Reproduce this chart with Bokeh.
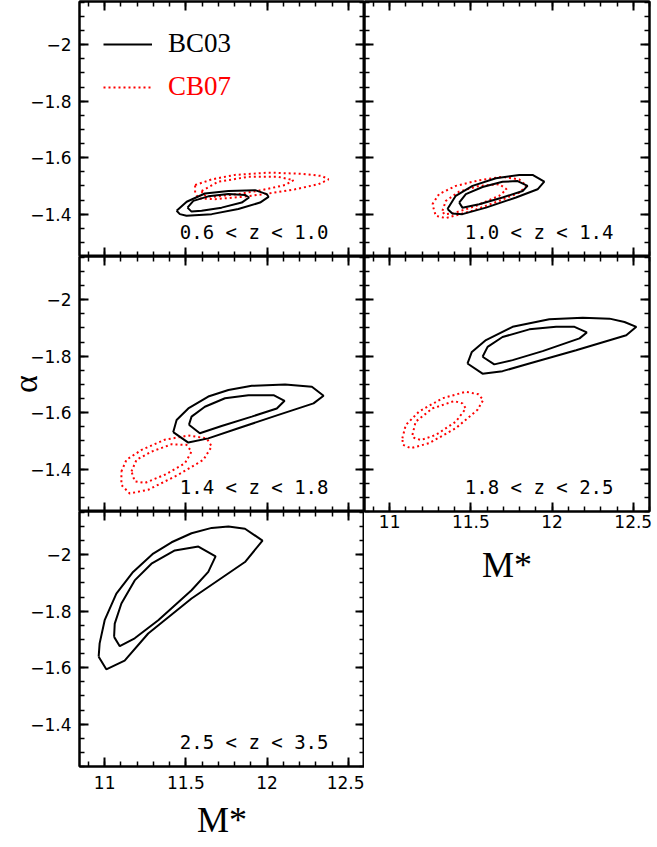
import numpy as np
from bokeh.plotting import figure
from bokeh.models import (Range1d, LinearAxis, FixedTicker, CustomJSTickFormatter,
                          Label, Legend, LegendItem)
from bokeh.layouts import column, row
from bokeh.embed import file_html
from bokeh.resources import INLINE
from bokeh.core.properties import value

# ---------------- data ----------------
z_labels = ["0.6 < z < 1.0", "1.0 < z < 1.4", "1.4 < z < 1.8", "1.8 < z < 2.5", "2.5 < z < 3.5"]
x_major = [11, 11.5, 12, 12.5]
y_major = [-2, -1.8, -1.6, -1.4]

# panel 1 : 0.6 < z < 1.0
bc_outer1_x = [11.443, 11.505, 11.617, 11.762, 11.926, 11.998, 12.009, 11.957, 11.823, 11.659, 11.504, 11.463]
bc_outer1_y = [-1.412, -1.444, -1.473, -1.482, -1.485, -1.471, -1.461, -1.441, -1.418, -1.400, -1.394, -1.400]
bc_inner1_x = [11.510, 11.546, 11.638, 11.762, 11.864, 11.889, 11.844, 11.720, 11.597, 11.535]
bc_inner1_y = [-1.423, -1.447, -1.463, -1.471, -1.468, -1.459, -1.441, -1.423, -1.412, -1.409]
cb_outer1_x = [11.557, 11.659, 11.802, 12.009, 12.214, 12.338, 12.379, 12.317, 12.173, 12.009, 11.844, 11.679, 11.577, 11.557]
cb_outer1_y = [-1.503, -1.523, -1.539, -1.547, -1.543, -1.535, -1.523, -1.506, -1.488, -1.473, -1.461, -1.453, -1.456, -1.476]
cb_inner1_x = [11.597, 11.700, 11.885, 12.070, 12.163, 12.111, 11.967, 11.823, 11.659, 11.607]
cb_inner1_y = [-1.482, -1.515, -1.532, -1.532, -1.520, -1.503, -1.485, -1.471, -1.461, -1.468]

# panel 2 : 1.0 < z < 1.4
bc_outer2_x = [11.356, 11.407, 11.510, 11.654, 11.798, 11.880, 11.952, 11.911, 11.778, 11.593, 11.448, 11.386]
bc_outer2_y = [-1.418, -1.465, -1.500, -1.527, -1.539, -1.539, -1.515, -1.488, -1.459, -1.423, -1.400, -1.402]
bc_inner2_x = [11.428, 11.469, 11.572, 11.695, 11.788, 11.849, 11.819, 11.695, 11.551, 11.448]
bc_inner2_y = [-1.441, -1.471, -1.496, -1.515, -1.517, -1.500, -1.482, -1.459, -1.435, -1.423]
cb_outer2_x = [11.263, 11.304, 11.407, 11.551, 11.695, 11.798, 11.843, 11.798, 11.675, 11.510, 11.346, 11.284]
cb_outer2_y = [-1.435, -1.471, -1.500, -1.520, -1.532, -1.523, -1.500, -1.476, -1.447, -1.412, -1.386, -1.394]
cb_inner2_x = [11.325, 11.346, 11.428, 11.551, 11.675, 11.720, 11.675, 11.531, 11.386, 11.335]
cb_inner2_y = [-1.412, -1.447, -1.480, -1.500, -1.506, -1.488, -1.465, -1.429, -1.402, -1.400]

# panel 3 : 1.4 < z < 1.8
bc_outer3_x = [11.422, 11.443, 11.515, 11.638, 11.762, 11.906, 12.111, 12.276, 12.348, 12.286, 12.070, 11.823, 11.638, 11.515]
bc_outer3_y = [-1.531, -1.574, -1.615, -1.657, -1.680, -1.695, -1.700, -1.692, -1.660, -1.633, -1.592, -1.545, -1.509, -1.494]
bc_inner3_x = [11.519, 11.535, 11.617, 11.741, 11.885, 12.040, 12.108, 12.060, 11.906, 11.720, 11.586]
bc_inner3_y = [-1.557, -1.586, -1.621, -1.651, -1.662, -1.662, -1.642, -1.615, -1.586, -1.553, -1.527]
cb_outer3_x = [11.103, 11.134, 11.227, 11.370, 11.515, 11.628, 11.659, 11.608, 11.453, 11.268, 11.154, 11.103]
cb_outer3_y = [-1.392, -1.433, -1.468, -1.504, -1.519, -1.509, -1.480, -1.433, -1.380, -1.327, -1.314, -1.344]
cb_inner3_x = [11.165, 11.196, 11.288, 11.412, 11.504, 11.535, 11.494, 11.370, 11.247, 11.185]
cb_inner3_y = [-1.392, -1.433, -1.462, -1.488, -1.486, -1.462, -1.421, -1.380, -1.351, -1.357]

# panel 4 : 1.8 < z < 2.5
bc_outer4_x = [11.479, 11.506, 11.593, 11.757, 11.983, 12.189, 12.354, 12.446, 12.519, 12.457, 12.148, 11.860, 11.695, 11.572]
bc_outer4_y = [-1.774, -1.815, -1.857, -1.904, -1.931, -1.936, -1.933, -1.921, -1.904, -1.874, -1.821, -1.774, -1.747, -1.738]
bc_inner4_x = [11.572, 11.603, 11.695, 11.860, 12.025, 12.138, 12.214, 12.169, 11.942, 11.757, 11.644]
bc_inner4_y = [-1.798, -1.833, -1.868, -1.895, -1.904, -1.904, -1.884, -1.863, -1.818, -1.786, -1.771]
cb_outer4_x = [11.078, 11.099, 11.181, 11.325, 11.469, 11.547, 11.576, 11.541, 11.407, 11.243, 11.130, 11.082]
cb_outer4_y = [-1.509, -1.556, -1.604, -1.651, -1.674, -1.665, -1.645, -1.610, -1.545, -1.492, -1.474, -1.486]
cb_inner4_x = [11.140, 11.160, 11.263, 11.397, 11.448, 11.469, 11.407, 11.284, 11.191, 11.150]
cb_inner4_y = [-1.521, -1.568, -1.615, -1.641, -1.633, -1.615, -1.568, -1.521, -1.503, -1.511]

# panel 5 : 2.5 < z < 3.5 (BC03 only)
bc_outer5_x = [10.963, 10.969, 11.000, 11.072, 11.175, 11.299, 11.412, 11.535, 11.659, 11.762, 11.864, 11.972, 11.864, 11.535, 11.268, 11.123, 11.010]
bc_outer5_y = [-1.639, -1.686, -1.768, -1.862, -1.939, -2.004, -2.044, -2.076, -2.095, -2.100, -2.092, -2.050, -1.974, -1.845, -1.721, -1.625, -1.594]
bc_inner5_x = [11.058, 11.062, 11.103, 11.185, 11.288, 11.432, 11.577, 11.683, 11.638, 11.535, 11.330, 11.185, 11.093]
bc_inner5_y = [-1.709, -1.756, -1.827, -1.909, -1.968, -2.015, -2.029, -1.994, -1.939, -1.874, -1.768, -1.704, -1.676]

# ---------------- styling / layout ----------------
X_START, X_END = 10.845, 12.6
Y_BOTTOM, Y_TOP = -1.25, -2.153
FW, FH = 285, 255
LEFT_BORDER = 79
x_minor = [round(v, 2) for v in np.arange(10.9, 12.61, 0.1)]
y_minor = [round(v, 3) for v in np.arange(-2.15, -1.249, 0.05)]

fmt = CustomJSTickFormatter(code="""
const s = Math.abs(tick).toFixed(1).replace(/\\.0$/, '');
return (tick < 0 ? '\\u2212' : '') + s;
""")


def add_axis(p, side, labels, axis_label=None, label_standoff=3, title_standoff=14,
             title_size="36px"):
    horiz = side in ("above", "below")
    ax = LinearAxis(ticker=FixedTicker(ticks=x_major if horiz else y_major,
                                       minor_ticks=x_minor if horiz else y_minor),
                    formatter=fmt)
    ax.major_tick_in = 9
    ax.major_tick_out = 0
    ax.minor_tick_in = 5
    ax.minor_tick_out = 0
    ax.major_tick_line_width = 2
    ax.minor_tick_line_width = 1.5
    ax.axis_line_width = 2
    if labels:
        ax.major_label_text_font = "DejaVu Sans"
        ax.major_label_text_font_size = "17px"
        ax.major_label_text_color = "black"
        ax.major_label_standoff = label_standoff if horiz else 8
    else:
        ax.major_label_text_color = None
        ax.major_label_standoff = 0
    if axis_label:
        ax.axis_label = axis_label
        ax.axis_label_text_font = "Liberation Serif"
        ax.axis_label_text_font_size = title_size
        ax.axis_label_text_font_style = "normal"
        ax.axis_label_text_color = "black"
        ax.axis_label_standoff = title_standoff
    p.add_layout(ax, side)
    return ax


def make_panel(idx, left_labels, bottom_labels, top, right, bottom,
               label_standoff=3, title_standoff=14, y_title=None):
    p = figure(frame_width=FW, frame_height=FH,
               x_range=Range1d(X_START, X_END), y_range=Range1d(Y_BOTTOM, Y_TOP),
               x_axis_location=None, y_axis_location=None,
               toolbar_location=None, output_backend="svg",
               min_border_left=LEFT_BORDER if left_labels else 0, min_border_right=right,
               min_border_top=top, min_border_bottom=bottom)
    p.grid.grid_line_color = None
    p.outline_line_color = "black"
    p.outline_line_width = 2
    p.background_fill_color = "white"
    p.border_fill_color = "white"
    # y-axis title tucked into the tick-label margin (negative standoff keeps the
    # frame at the same place as the panels above and below)
    add_axis(p, "left", left_labels, y_title, title_standoff=-17, title_size="34px")
    add_axis(p, "right", False)
    add_axis(p, "above", False)
    add_axis(p, "below", bottom_labels, "M*" if bottom_labels else None,
             label_standoff, title_standoff)
    p.add_layout(Label(x=FW - 36, y=25, x_units="screen", y_units="screen",
                       text=z_labels[idx], text_align="right", text_baseline="middle",
                       text_font="DejaVu Sans Mono", text_font_size="19px",
                       text_color="black"))
    return p


def closed(xs):
    return [list(c) + [c[0]] for c in xs]


def draw(p, bc_x, bc_y, cb_x=None, cb_y=None):
    r_cb = None
    if cb_x is not None:
        r_cb = p.multi_line(closed(cb_x), closed(cb_y), line_color="#ff0000",
                            line_width=2, line_dash="2 3")
    r_bc = p.multi_line(closed(bc_x), closed(bc_y), line_color="black", line_width=2)
    return r_bc, r_cb


p1 = make_panel(0, True, False, 1, 0, 0)
p2 = make_panel(1, False, False, 1, 8, 0)
p3 = make_panel(2, True, False, 0, 0, 0, y_title="α")
p4 = make_panel(3, False, True, 0, 8, 80, label_standoff=3, title_standoff=14)
p5 = make_panel(4, True, True, 0, 0, 80, label_standoff=9, title_standoff=8)

r_bc1, r_cb1 = draw(p1, [bc_outer1_x, bc_inner1_x], [bc_outer1_y, bc_inner1_y],
                    [cb_outer1_x, cb_inner1_x], [cb_outer1_y, cb_inner1_y])
draw(p2, [bc_outer2_x, bc_inner2_x], [bc_outer2_y, bc_inner2_y],
     [cb_outer2_x, cb_inner2_x], [cb_outer2_y, cb_inner2_y])
draw(p3, [bc_outer3_x, bc_inner3_x], [bc_outer3_y, bc_inner3_y],
     [cb_outer3_x, cb_inner3_x], [cb_outer3_y, cb_inner3_y])
draw(p4, [bc_outer4_x, bc_inner4_x], [bc_outer4_y, bc_inner4_y],
     [cb_outer4_x, cb_inner4_x], [cb_outer4_y, cb_inner4_y])
draw(p5, [bc_outer5_x, bc_inner5_x], [bc_outer5_y, bc_inner5_y])


def make_legend(label, renderer, color, top_offset):
    return Legend(items=[LegendItem(label=value(label), renderers=[renderer])],
                  location=(24, FH - top_offset), padding=0, margin=0, spacing=0,
                  glyph_width=49, glyph_height=30, label_height=30, label_standoff=16,
                  label_text_font="Liberation Serif", label_text_font_size="27px",
                  label_text_color=color, label_text_baseline="middle",
                  border_line_color=None, background_fill_alpha=0)


p1.add_layout(make_legend("BC03", r_bc1, "black", 58), "center")
p1.add_layout(make_legend("CB07", r_cb1, "#ff0000", 101), "center")

layout = row(column(p1, p3, p5), column(p2, p4))

open("out.html", "w", encoding="utf-8").write(file_html(layout, INLINE))
